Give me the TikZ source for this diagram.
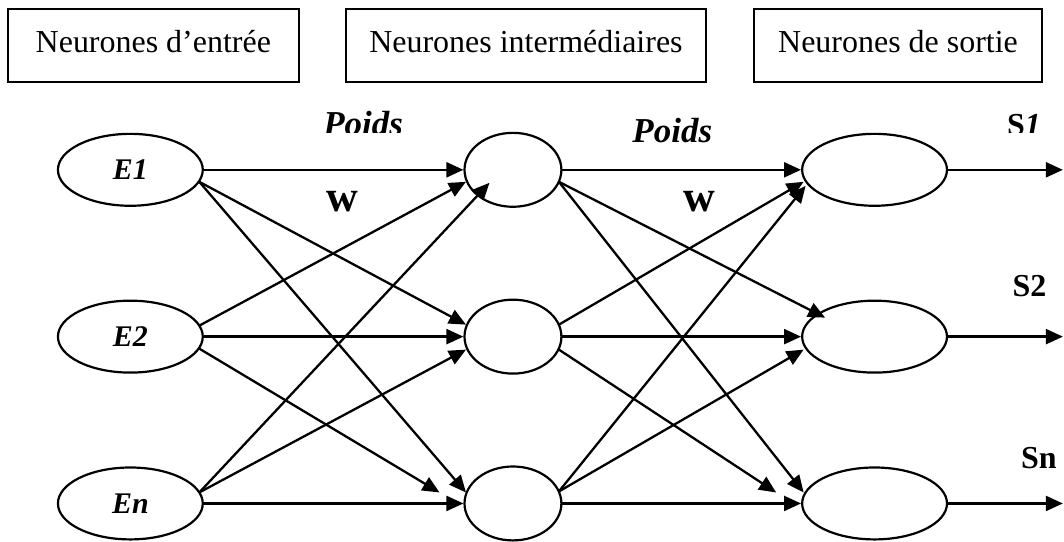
\documentclass[tikz,border=0pt]{standalone}
\usepackage{fontspec}
\setmainfont{Liberation Serif}
\usetikzlibrary{shapes.geometric,arrows.meta,calc}
\begin{document}
\begin{tikzpicture}[x=1pt,y=-1pt,
  layerbox/.style={draw, line width=1.8pt, minimum height=73pt, inner sep=0pt,
    text height=23pt, text depth=9pt, font=\fontsize{32}{38}\selectfont},
  neuron/.style={ellipse, draw, line width=2.2pt, inner sep=0pt},
  wide/.style={neuron, minimum width=145pt, minimum height=72pt},
  narrow/.style={neuron, minimum width=97pt, minimum height=74pt},
  inlbl/.style={font=\fontsize{30}{34}\selectfont\bfseries\itshape},
  conn/.style={line width=2.3pt, -{Triangle[length=17pt,width=15pt]}},
  poids/.style={inner sep=0pt, anchor=base, font=\fontsize{35}{40}\selectfont\bfseries\itshape},
  wlbl/.style={inner sep=0pt, anchor=base, font=\fontsize{44}{48}\selectfont\bfseries},
  slbl/.style={inner sep=0pt, anchor=base, font=\fontsize{32}{36}\selectfont\bfseries}
]
\fill[white] (0,0) rectangle (1064,541);

% layer titles
\node[layerbox, minimum width=291pt] (t1) at (153.5,45.5) {Neurones d’entrée};
\node[layerbox, minimum width=361pt] (t2) at (526.5,45.5) {Neurones intermédiaires};
\node[layerbox, minimum width=288pt] (t3) at (899,45.5) {Neurones de sortie};

% input neurons
\node[wide, inlbl] (E1) at (130.5,170) {E1};
\node[wide, inlbl] (E2) at (130.5,337) {E2};
\node[wide, inlbl] (En) at (130.5,504) {En};

% hidden neurons
\node[narrow] (H1) at (513.5,170) {};
\node[narrow] (H2) at (513.5,337) {};
\node[narrow] (H3) at (513.5,504) {};

% output neurons
\node[wide] (O1) at (875.5,170) {};
\node[wide] (O2) at (875.5,337) {};
\node[wide] (O3) at (875.5,504) {};

% output ends
\coordinate (s1) at (1064,170);
\coordinate (s2) at (1064,337);
\coordinate (sn) at (1064,504);

% weights labels
\begin{scope}
  \clip (0,0) rectangle (1064,133);
  \node[poids] (p1) at (363.5,136) {Poids};
  \node[slbl] (S1) at (1025,136) {S\textit{1}};
\end{scope}
\node[poids] (p2) at (673,143) {Poids};
\node[wlbl] (w1) at (343,212) {w};
\node[wlbl] (w2) at (700.5,212) {w};
\node[slbl] (S2) at (1030.5,297) {S2};
\node[slbl] (Sn) at (1040,469) {Sn};

% input -> hidden
\draw[conn] (E1.east) -- (H1.west);
\draw[conn] ($(E1)+(69,12)$) -- ($(H2)+(-47,-12)$);
\draw[conn] ($(E1)+(69,12)$) -- ($(H3)+(-47,-11)$);
\draw[conn] ($(E2)+(69,-11)$) -- ($(H1)+(-47,12)$);
\draw[conn] (E2.east) -- (H2.west);
\draw[conn] ($(E2)+(69,12)$) -- ($(H3)+(-73.5,-11)$);
\draw[conn] ($(En)+(69,-11)$) -- ($(H1)+(-23.5,13)$);
\draw[conn] ($(En)+(69,-11)$) -- ($(H2)+(-47,13)$);
\draw[conn] (En.east) -- (H3.west);

% hidden -> output
\draw[conn] (H1.east) -- (O1.west);
\draw[conn] ($(H1)+(46,12)$) -- ($(O2)+(-49.5,-19)$);
\draw[conn] ($(H1)+(46,12)$) -- ($(O3)+(-71,-11)$);
\draw[conn] ($(H2)+(46,-12)$) -- ($(O1)+(-71,12)$);
\draw[conn] (H2.east) -- (O2.west);
\draw[conn] ($(H2)+(46,13)$) -- ($(O3)+(-98.5,-11)$);
\draw[conn] ($(H3)+(46,-12)$) -- ($(O1)+(-69,16)$);
\draw[conn] ($(H3)+(46,-12)$) -- ($(O2)+(-71,13)$);
\draw[conn] (H3.east) -- (O3.west);

% outputs
\draw[conn] (O1.east) -- (s1);
\draw[conn] (O2.east) -- (s2);
\draw[conn] (O3.east) -- (sn);
\end{tikzpicture}
\end{document}
